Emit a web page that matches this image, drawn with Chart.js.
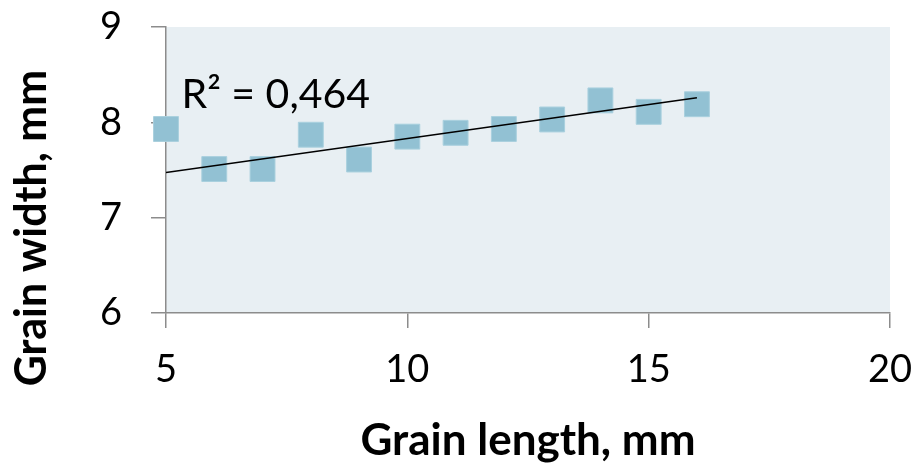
<!DOCTYPE html>
<html>
<head>
<meta charset="utf-8">
<script src="https://cdn.jsdelivr.net/npm/chart.js@4.4.1/dist/chart.umd.min.js"></script>
<style>
  body { margin: 0; background: #fff; }
  #wrap { width: 921px; height: 464px; }
</style>
</head>
<body>
<div id="wrap"><canvas id="grafico" width="921" height="464"></canvas></div>
<script>
// grain length (mm) on x, grain width (mm) on y
const lengths = [5, 6, 7, 8, 9, 10, 11, 12, 13, 14, 15, 16]
const widths = [7.93, 7.51, 7.51, 7.87, 7.61, 7.85, 7.89, 7.93, 8.03, 8.23, 8.11, 8.19]

// trendline ends as drawn in the picture
const trendX = [5, 16]
const trendY = [7.475, 8.258]

const r2Text = 'R² = 0,464'
const r2At = { x: 5.32, y: 8.15 }

const xTicks = [5, 10, 15, 20]
const yTicks = [6, 7, 8, 9]

const yTitle = 'Grain width, mm'

const plotBg = {
  id: 'plotBg',
  beforeDraw(chart) {
    const { ctx, chartArea: a } = chart
    ctx.save()
    ctx.fillStyle = '#E8EFF3'
    ctx.fillRect(a.left, a.top, a.right - a.left, a.bottom - a.top)
    ctx.restore()
  }
}

// R² text plus the y title (Excel centres it lower than Chart.js would)
const labels = {
  id: 'labels',
  afterDatasetsDraw(chart) {
    const { ctx, scales } = chart
    ctx.save()
    ctx.font = '41px Lato'
    ctx.fillStyle = '#000'
    ctx.textAlign = 'left'
    ctx.textBaseline = 'alphabetic'
    ctx.fillText(r2Text, scales.x.getPixelForValue(r2At.x), scales.y.getPixelForValue(r2At.y))

    ctx.translate(46, 228)
    ctx.rotate(-Math.PI / 2)
    ctx.font = 'bold 43px Lato'
    ctx.textAlign = 'center'
    ctx.fillText(yTitle, 0, 0)
    ctx.restore()
  }
}

const axisColor = '#8C8C8C'

new Chart(document.getElementById('grafico'), {
  type: 'scatter',
  data: {
    datasets: [
      {
        type: 'line',
        data: trendX.map((x, i) => ({ x, y: trendY[i] })),
        borderColor: '#000',
        borderWidth: 1.5,
        pointRadius: 0,
        order: 0
      },
      {
        data: lengths.map((x, i) => ({ x, y: widths[i] })),
        pointStyle: 'rect',
        pointRadius: 17.6,
        pointHoverRadius: 17.6,
        backgroundColor: '#92C1D3',
        borderColor: '#A9D0DE',
        borderWidth: 1,
        clip: false,
        order: 1
      }
    ]
  },
  options: {
    responsive: false,
    animation: false,
    layout: { padding: { top: 27, right: 31, left: 0, bottom: 0 } },
    plugins: { legend: { display: false }, tooltip: { enabled: false } },
    scales: {
      x: {
        type: 'linear',
        min: 5, max: 20,
        afterBuildTicks: s => { s.ticks = xTicks.map(v => ({ value: v })) },
        afterFit: s => { s.height = 151; s.paddingLeft = 0; s.paddingRight = 0 },
        border: { color: axisColor, width: 1.5 },
        grid: { drawOnChartArea: false, drawTicks: true, tickLength: 15, color: axisColor, lineWidth: 1.5 },
        ticks: { color: '#000', font: { family: 'Lato', size: 38 }, padding: 19, maxRotation: 0 },
        title: {
          display: true, text: 'Grain length, mm', color: '#000',
          font: { family: 'Lato', size: 44, weight: 'bold' },
          padding: { top: 0, bottom: -3 }
        }
      },
      y: {
        min: 6, max: 9,
        afterBuildTicks: s => { s.ticks = yTicks.map(v => ({ value: v })) },
        afterFit: s => { s.width = 166; s.paddingTop = 0; s.paddingBottom = 0 },
        border: { color: axisColor, width: 1.5 },
        grid: { drawOnChartArea: false, drawTicks: true, tickLength: 15, color: axisColor, lineWidth: 1.5 },
        ticks: { color: '#000', font: { family: 'Lato', size: 38 }, padding: 29 },
        title: { display: false }
      }
    }
  },
  plugins: [plotBg, labels]
})
</script>
</body>
</html>
